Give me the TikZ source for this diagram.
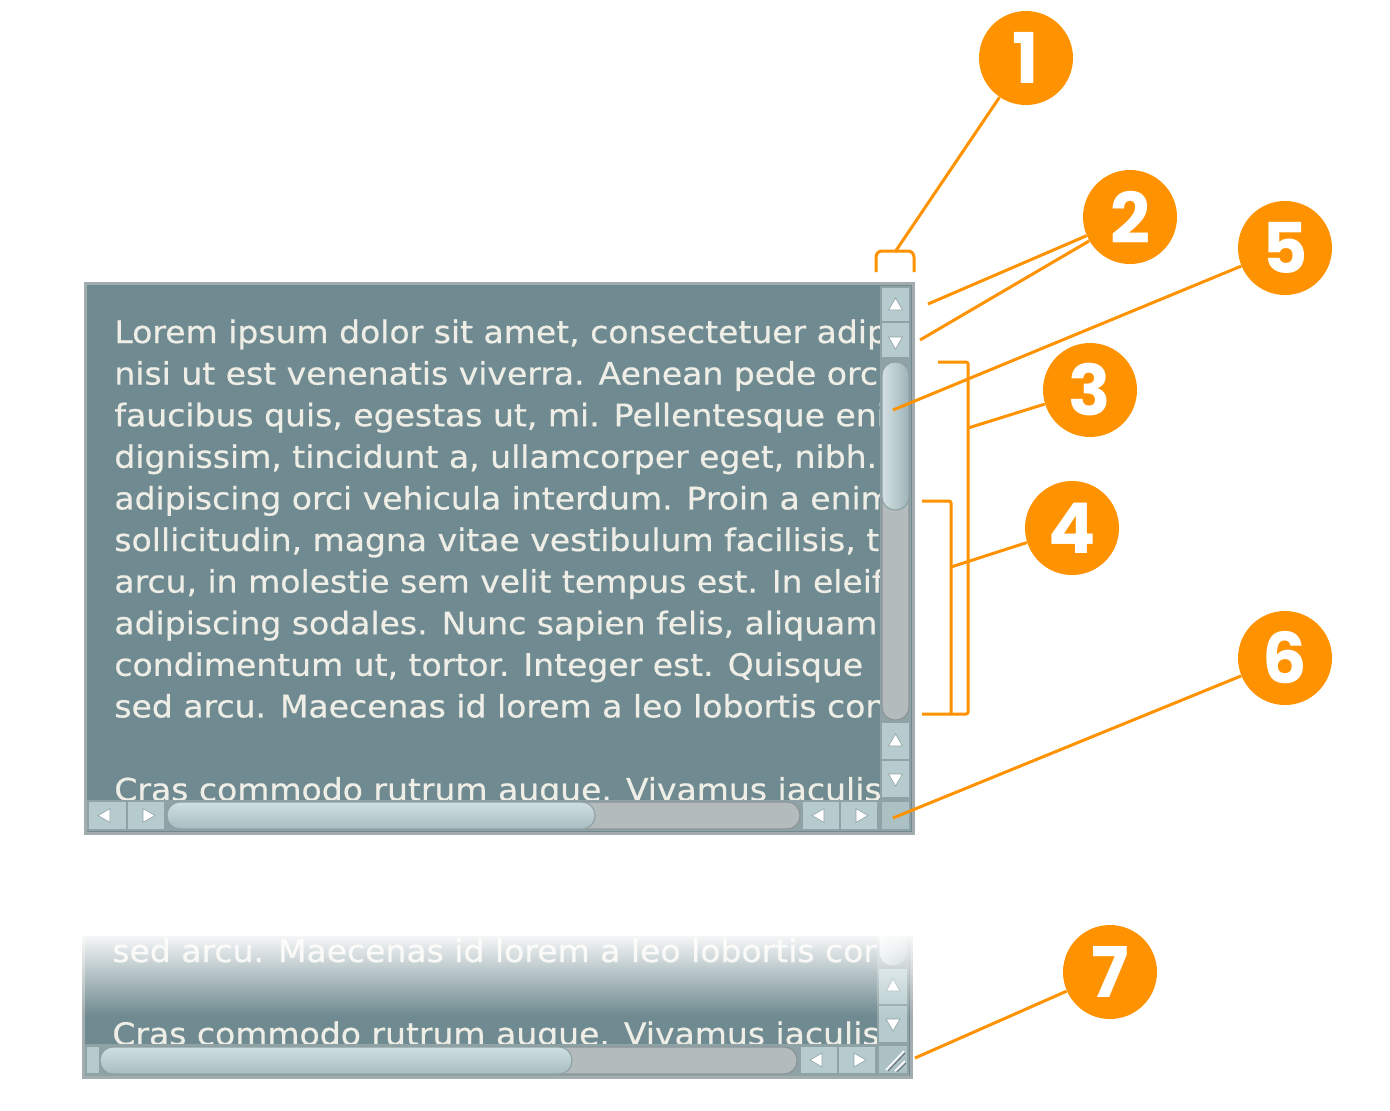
\documentclass[tikz,border=0pt]{standalone}
\usepackage{fontspec}
\usetikzlibrary{shapes.geometric, fadings}
\newfontfamily\uifont{DejaVu Sans}[FakeStretch=1.065, FakeBold=0.6]
\newfontfamily\calloutfont{Poppins}
\definecolor{corange}{HTML}{FF9200}
\definecolor{winbg}{HTML}{6F8A90}
\definecolor{winedge}{HTML}{A3ACAE}
\definecolor{barbg}{HTML}{8FA3A6}
\definecolor{btnfill}{HTML}{B5CBCE}
\definecolor{btnedge}{HTML}{8FA2A5}
\definecolor{thumbfill}{HTML}{B0C8CC}
\definecolor{trackfill}{HTML}{B4BBBD}
\definecolor{trackedge}{HTML}{8C9597}
\definecolor{textcol}{HTML}{EEEDE6}
\tikzfading[name=fadedown, top color=transparent!0, bottom color=transparent!100]

\begin{document}
\begin{tikzpicture}[x=0.5pt, y=-0.5pt,
  callout/.style={circle, fill=corange, text=white, minimum size=47pt, inner sep=0pt, font=\calloutfont\bfseries\fontsize{35}{35}\selectfont},
  lead/.style={draw=corange, line width=1.5pt},
  btn/.style={fill=btnfill, draw=btnedge, line width=0.6pt},
  arrowtri/.style={regular polygon, regular polygon sides=3, fill=white, draw=btnedge, line width=0.3pt, inner sep=0pt, minimum size=8pt},
  vthumb/.style={left color=thumbfill!55!white, right color=thumbfill!90!black, draw=btnedge, line width=0.6pt, rounded corners=6.5pt},
  hthumb/.style={top color=thumbfill!60!white, bottom color=thumbfill!95!black, draw=btnedge, line width=0.6pt, rounded corners=6.5pt},
  track/.style={fill=trackfill, draw=trackedge, line width=0.6pt, rounded corners=6.5pt},
  uitext/.style={anchor=base west, inner sep=0pt, text=textcol, font=\uifont\fontsize{15.5}{20.8}\selectfont}
]
\useasboundingbox (0,0) rectangle (1390,1110);

  % Window
  \fill[winbg] (86,284) rectangle (912,832);
  \begin{scope}
    \clip (88,286) rectangle (880,800);
    \foreach \txt [count=\i from 0] in {
      {Lorem ipsum dolor sit amet, consectetuer adipiscing},
      {nisi ut est venenatis viverra. Aenean pede orci},
      {faucibus quis, egestas ut, mi. Pellentesque enim},
      {dignissim, tincidunt a, ullamcorper eget, nibh.},
      {adipiscing orci vehicula interdum. Proin a enim},
      {sollicitudin, magna vitae vestibulum facilisis, tellus},
      {arcu, in molestie sem velit tempus est. In eleifend},
      {adipiscing sodales. Nunc sapien felis, aliquam et},
      {condimentum ut, tortor. Integer est. Quisque},
      {sed arcu. Maecenas id lorem a leo lobortis congue}}
      \node[uitext] (line\i) at (114, {343+\i*41.6}) {\txt};
    \node[uitext] (line11) at (114, {343+11*41.6}) {Cras commodo rutrum augue. Vivamus iaculis};
  \end{scope}

  % Vertical scrollbar
  \fill[barbg] (880,286) rectangle (911,831);
  \draw[btn] (881,287) rectangle (910,322);
  \node[arrowtri] (vup) at (895.5,306) {};
  \draw[btn] (881,322) rectangle (910,358);
  \node[arrowtri, regular polygon rotate=180] (vdown) at (895.5,341) {};
  \draw[track] (882,362) rectangle (909,720);
  \shade[vthumb] (882,362) rectangle (909,510);
  \draw[btn] (881,722) rectangle (910,760);
  \node[arrowtri] (vup2) at (895.5,742) {};
  \draw[btn] (881,760) rectangle (910,798);
  \node[arrowtri, regular polygon rotate=180] (vdown2) at (895.5,778) {};
  \draw[btn, fill=btnfill!75!barbg] (881,801) rectangle (910,830);

  % Horizontal scrollbar
  \fill[barbg] (87,800) rectangle (880,831);
  \draw[btn] (88,801) rectangle (127,830);
  \node[arrowtri, regular polygon rotate=90] (hleft) at (106,815.5) {};
  \draw[btn] (127,801) rectangle (165,830);
  \node[arrowtri, regular polygon rotate=-90] (hright) at (147,815.5) {};
  \draw[track] (167,802) rectangle (800,829);
  \shade[hthumb] (167,802) rectangle (595,829);
  \draw[btn] (802,801) rectangle (840,830);
  \node[arrowtri, regular polygon rotate=90] (hleft2) at (820,815.5) {};
  \draw[btn] (840,801) rectangle (878,830);
  \node[arrowtri, regular polygon rotate=-90] (hright2) at (860,815.5) {};
  \draw[winedge, line width=1.5pt] (85,283) rectangle (913,833);

  % Window corner, resizable
  \fill[winbg] (84,935) rectangle (910,1076);
  \begin{scope}
    \clip (86,935) rectangle (878,1044);
    \node[uitext] (fadeline) at (112,962) {sed arcu. Maecenas id lorem a leo lobortis congue};
    \node[uitext] (lastline) at (112,1045) {Cras commodo rutrum augue. Vivamus iaculis};
  \end{scope}
  \fill[barbg] (877,935) rectangle (909,1076);
  \begin{scope}
    \clip (870,935) rectangle (915,970);
    \draw[track] (879,920) rectangle (907,966);
    \shade[vthumb] (879,920) rectangle (907,966);
  \end{scope}
  \draw[btn] (878,968) rectangle (908,1005);
  \node[arrowtri] (cup) at (893,987) {};
  \draw[btn] (878,1005) rectangle (908,1043);
  \node[arrowtri, regular polygon rotate=180] (cdown) at (893,1023) {};
  \fill[barbg] (84,1044) rectangle (878,1076);
  \draw[btn] (86,1046) rectangle (100,1074);
  \draw[track] (100,1047) rectangle (797,1074);
  \shade[hthumb] (100,1047) rectangle (572,1074);
  \draw[btn] (800,1046) rectangle (838,1074);
  \node[arrowtri, regular polygon rotate=90] (cleft) at (818,1060) {};
  \draw[btn] (838,1046) rectangle (876,1074);
  \node[arrowtri, regular polygon rotate=-90] (cright) at (858,1060) {};
  \draw[btn, fill=btnfill!75!barbg] (878,1045) rectangle (908,1074);
  \draw[white, line width=0.8pt] (886,1070) -- (904,1051) (895,1071) -- (905,1061);
  \draw[btnedge!70!black, line width=0.5pt] (888,1071) -- (905,1053) (897,1072) -- (906,1063);
  \draw[winedge, line width=1.5pt] (83,935) -- (83,1077) -- (911,1077) -- (911,935);
  \fill[white, path fading=fadedown] (70,930) rectangle (925,1016);
  \fill[white] (70,925) rectangle (925,936);

  % Callouts
  \node[callout] (c1) at (1026,58) {1};
  \node[callout] (c2) at (1130,217) {2};
  \node[callout] (c5) at (1285,248) {5};
  \node[callout] (c3) at (1090,390) {3};
  \node[callout] (c4) at (1072,528) {4};
  \node[callout] (c6) at (1285,658) {6};
  \node[callout] (c7) at (1110,972) {7};

  % Brackets
  \draw[lead, rounded corners=3pt] (876,272) -- (876,251) -- (914,251) -- (914,272);
  \draw[lead, rounded corners=1pt] (938,362) -- (968,362) -- (968,714) -- (922,714);
  \draw[lead, rounded corners=1pt] (922,501) -- (951,501) -- (951,714);

  % Leaders
  \coordinate (p1) at (895,252);
  \coordinate (p2a) at (928,304);
  \coordinate (p2b) at (920,340);
  \coordinate (p5) at (893,410);
  \coordinate (p3) at (968,428);
  \coordinate (p4) at (951,567);
  \coordinate (p6) at (893,818);
  \coordinate (p7) at (915,1058);
  \draw[lead] (c1) -- (p1);
  \draw[lead] (c2) -- (p2a);
  \draw[lead] (c2) -- (p2b);
  \draw[lead] (c5) -- (p5);
  \draw[lead] (c3) -- (p3);
  \draw[lead] (c4) -- (p4);
  \draw[lead] (c6) -- (p6);
  \draw[lead] (c7) -- (p7);

\end{tikzpicture}
\end{document}
